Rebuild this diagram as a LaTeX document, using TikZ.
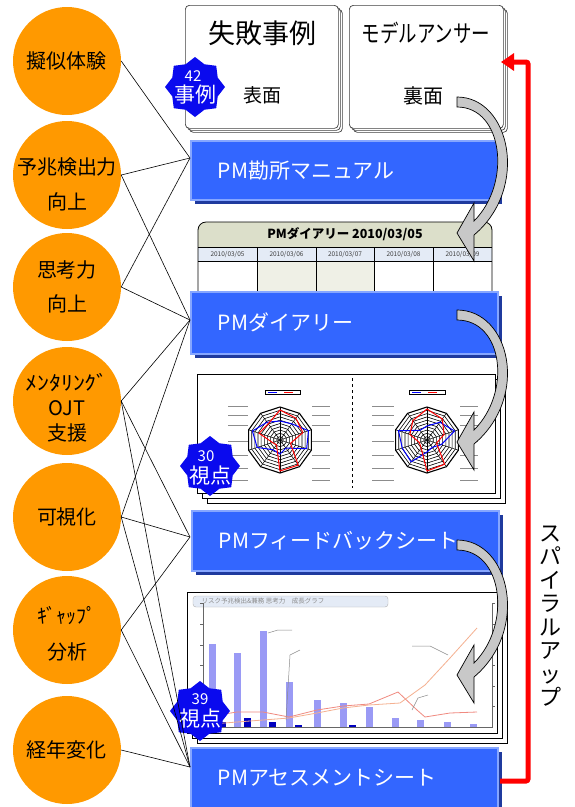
\documentclass[tikz,border=0pt]{standalone}
\usepackage{fontspec}
\usepackage{graphicx}
\setmainfont{Noto Sans CJK JP}
\usetikzlibrary{shapes.geometric,shadows,arrows.meta,calc}
\definecolor{orng}{HTML}{FF9900}
\definecolor{barblue}{HTML}{3366FF}
\definecolor{bardark}{HTML}{1F3A9E}
\definecolor{barlight}{HTML}{86A6FF}
\definecolor{badgeblue}{HTML}{0A0AEE}
\definecolor{hdr}{HTML}{DCDFCA}
\definecolor{daterow}{HTML}{E4EBF6}
\definecolor{cellg}{HTML}{EFF0E6}
\definecolor{arrowgray}{HTML}{C8C8C8}
\definecolor{lilac}{HTML}{9A9AF5}
\definecolor{salmonA}{HTML}{F5B090}
\definecolor{salmonB}{HTML}{F08A80}
\newcommand{\grayarrow}[2]{%
 \filldraw[fill=arrowgray, draw=black, line width=0.7pt]
 (457,#1-5) .. controls (510,#1-5) and (530,#2-45) .. (474,#2+2)
 -- (474,#2+28) -- (457,#2) -- (474,#2-30) -- (474,#2-12)
 .. controls (512,#2-50) and (503,#1+5) .. (457,#1+5) -- cycle;}
\newcommand{\myradar}[3]{%
 \begin{scope}[shift={#1}]
  \foreach \r in {3.3,6.6,9.9,13.2,16.5,19.8,23.1,26.4,29.7}
   \draw[line width=0.6pt] (90:\r) -- (126:\r) -- (162:\r) -- (198:\r) -- (234:\r) -- (270:\r) -- (306:\r) -- (342:\r) -- (18:\r) -- (54:\r) -- cycle;
  \draw[line width=1.1pt] (90:33) -- (126:33) -- (162:33) -- (198:33) -- (234:33) -- (270:33) -- (306:33) -- (342:33) -- (18:33) -- (54:33) -- cycle;
  \foreach \a in {0,...,9} \draw[line width=0.5pt] (0,0) -- (90+36*\a:33);
  \draw[blue, line width=1pt] #2;
  \draw[red, line width=1pt] #3;
 \end{scope}}
\begin{document}
\begin{tikzpicture}[x=1pt,y=-1pt,
  circ/.style={circle, fill=orng, minimum size=108pt, inner sep=0pt, align=center},
  barbox/.style={draw=barlight, line width=1.5pt, fill=barblue, text=white, anchor=north west,
     text width=253pt, inner xsep=27pt, align=left, font=\fontsize{21}{21}\selectfont,
     drop shadow={shadow xshift=4pt, shadow yshift=-4pt, fill=bardark, opacity=1}},
  card/.style={draw=black!75, fill=white, rounded corners=4pt, line width=0.7pt, anchor=north west,
     double copy shadow={shadow xshift=2pt, shadow yshift=-2pt}},
  page/.style={draw=black, fill=white, line width=0.7pt, anchor=north west, inner sep=0pt,
     double copy shadow={shadow xshift=5pt, shadow yshift=-5pt}},
  badgestar/.style={star, star points=8, star point ratio=1.22, fill=badgeblue, minimum size=60pt, inner sep=0pt},
  badgetxt/.style={text=white, inner sep=0pt},
  conn/.style={draw=black, line width=0.6pt},
  datetxt/.style={font=\fontsize{6.5}{6.5}\selectfont, text=black!75},
  gline/.style={draw=black!45, line width=0.5pt}
 ]
\useasboundingbox (0,0) rectangle (575,807);
\fill[white] (0,0) rectangle (575,807);

% ---------- top cards
\node[card, minimum width=153pt, minimum height=123pt] (card1) at (185,5) {};
\node[card, minimum width=154pt, minimum height=123pt] (card2) at (349,5) {};
\node[font=\fontsize{27}{27}\selectfont] (t1) at (262,33) {失敗事例};
\node[font=\fontsize{19}{19}\selectfont] (t2) at (262,95) {表面};
\node[font=\fontsize{24}{24}\selectfont] (t3) at (426,33) {\scalebox{0.77}[1]{モデルアンサー}};
\node[font=\fontsize{20}{20}\selectfont] (t4) at (423,96) {裏面};

% ---------- diary page
\fill[hdr, rounded corners=8pt] (198,247) -- (198,222) -- (492,222) -- (492,247) -- cycle;
\fill[hdr] (198,238) rectangle (492,247);
\fill[daterow] (198,247) rectangle (492,261);
\fill[white] (198,261) rectangle (492,295);
\fill[cellg] (257,261) rectangle (374,295);
\draw[line width=0.8pt, rounded corners=8pt] (198,295) -- (198,222) -- (492,222) -- (492,295);
\draw[line width=0.8pt] (198,247) -- (492,247) (198,261) -- (492,261);
\foreach \x in {257,316,374,433} \draw[line width=0.8pt] (\x,247) -- (\x,295);
\node[font=\bfseries\fontsize{12.5}{12.5}\selectfont] (dh) at (345,234) {PMダイアリー 2010/03/05};
\node[datetxt] (d1) at (227.5,254) {2010/03/05};
\node[datetxt] (d2) at (286.5,254) {2010/03/06};
\node[datetxt] (d3) at (345,254) {2010/03/07};
\node[datetxt] (d4) at (403.5,254) {2010/03/08};
\node[datetxt] (d5) at (462.5,254) {2010/03/09};

% ---------- radar page
\node[page, minimum width=298pt, minimum height=119pt] (radarpage) at (197,374) {};
\draw[dashed, line width=0.7pt] (352,378) -- (352,488);
\draw[line width=0.5pt] (265,390) rectangle (300,394);
\draw[blue, line width=0.8pt] (268,392) -- (277,392);
\draw[red, line width=0.8pt] (284,392) -- (293,392);
\draw[line width=0.5pt] (409,390) rectangle (445,394);
\draw[blue, line width=0.8pt] (412,392) -- (421,392);
\draw[red, line width=0.8pt] (428,392) -- (437,392);
\foreach \y in {406,415,425,441,455,468,480} {
  \draw[gline] (228,\y) -- (248,\y); \draw[gline] (312,\y) -- (330,\y);
  \draw[gline] (372,\y) -- (394,\y); \draw[gline] (460,\y) -- (478,\y);}
\myradar{(280,440)}{(90:14) -- (126:12) -- (162:24) -- (198:29) -- (234:22) -- (270:19) -- (306:20) -- (342:30) -- (18:28) -- (54:10) -- cycle}
 {(90:31) -- (126:6) -- (162:8) -- (198:22) -- (234:20) -- (270:30) -- (306:27) -- (342:24) -- (18:11) -- (54:31) -- cycle}
\myradar{(427,440)}{(90:12) -- (126:27) -- (162:26) -- (198:30) -- (234:12) -- (270:14) -- (306:22) -- (342:29) -- (18:15) -- (54:9) -- cycle}
 {(90:31) -- (126:10) -- (162:8) -- (198:18) -- (234:24) -- (270:31) -- (306:26) -- (342:18) -- (18:10) -- (54:30) -- cycle}

% ---------- chart page
\node[page, minimum width=310pt, minimum height=141pt] (chartpage) at (187,592) {};
\draw[rounded corners=3pt, fill=daterow, draw=black!30] (193,596) rectangle (388,607);
\node[font=\fontsize{6.5}{6.5}\selectfont, text=black!45, anchor=west] (ctitle) at (198,601.5) {リスク予兆検出\&兼務 思考力　成長グラフ};
\draw[black!60, line width=0.5pt] (203,603) -- (203,727) -- (492,727) -- (492,603);
\foreach \y in {603,624,645,665,686,706} {\draw[black!60, line width=0.4pt] (200,\y) -- (203,\y); \draw[black!60, line width=0.4pt] (492,\y) -- (495,\y);}
\foreach \x/\t in {212/644,237/653,263/631,289/682,317/700,343/703,369/707,395/718,420/720,447/722,473/724}
  \fill[lilac] (\x-3.5,\t) rectangle (\x+3.5,727);
\foreach \x/\t in {222/722,247/718,272/722,298/725,352/725}
  \fill[blue!75!black] (\x-3.5,\t) rectangle (\x+3.5,727);
\draw[salmonA, line width=0.8pt] (212,724) -- (237,722) -- (263,720) -- (289,718) -- (317,713) -- (343,708) -- (369,705) -- (400,703) -- (425,685) -- (450,658) -- (477,628);
\draw[salmonB, line width=0.8pt] (212,716) -- (237,712) -- (263,712) -- (289,717) -- (317,710) -- (343,706) -- (369,704) -- (398,692) -- (417,710) -- (425,717) -- (450,713) -- (477,712);
\draw[gline] (268,633) -- (278,630) -- (292,630);
\draw[gline] (286,720) -- (290,655) -- (300,650);
\draw[gline] (412,646) -- (430,646) -- (448,655);
\draw[gline] (412,710) -- (418,698) -- (428,695);

% ---------- bars
\node[barbox, minimum height=59pt] (b1) at (190,140) {PM勘所マニュアル};
\node[barbox, minimum height=62pt] (b2) at (190,291) {PMダイアリー};
\node[barbox, minimum height=60pt] (b3) at (191,510) {PMフィードバックシート};
\node[barbox, minimum height=60pt] (b4) at (190,747) {PMアセスメントシート};
\coordinate (p1) at (190,158);
\coordinate (p2) at (190,320);
\coordinate (p3) at (190,537);
\coordinate (p4) at (190,767);

% ---------- badges
\node[badgestar] (s1) at (195,87) {};
\node[badgetxt, font=\fontsize{15}{15}\selectfont] (s1a) at (193,76) {42};
\node[badgetxt, font=\fontsize{21}{21}\selectfont] (s1b) at (195,95) {事例};
\node[badgestar] (s2) at (210,466) {};
\node[badgetxt, font=\fontsize{15}{15}\selectfont] (s2a) at (206,456) {30};
\node[badgetxt, font=\fontsize{21}{21}\selectfont] (s2b) at (210,476) {視点};
\node[badgestar] (s3) at (200,711) {};
\node[badgetxt, font=\fontsize{15}{15}\selectfont] (s3a) at (200,699) {39};
\node[badgetxt, font=\fontsize{21}{21}\selectfont] (s3b) at (200,719) {視点};

% ---------- curved arrows
\grayarrow{102}{233}
\grayarrow{315}{442}
\grayarrow{545}{675}

% ---------- circles
\node[circ] (c1) at (67,61) {};
\node[circ] (c2) at (67,175) {};
\node[circ] (c3) at (67,287) {};
\node[circ] (c4) at (67,401) {};
\node[circ] (c5) at (67,517) {};
\node[circ] (c6) at (67,630) {};
\node[circ] (c7) at (67,750) {};
\foreach \c/\b in {1/1,2/1,2/2,3/1,3/2,4/2,4/3,4/4,5/2,5/3,5/4,6/3,6/4,7/4}
  \draw[conn] (c\c.east) -- (p\b);
\node[align=center, font=\fontsize{20}{20}\selectfont] (l1) at (67,61) {擬似体験};
\node[align=center, font=\fontsize{20}{35}\selectfont] (l2) at (67,184) {予兆検出力\\向上};
\node[align=center, font=\fontsize{20}{34}\selectfont] (l3) at (67,287) {思考力\\向上};
\node[align=center, font=\fontsize{20}{25}\selectfont] (l4) at (67,408) {\scalebox{1.2}[1]{ﾒﾝﾀﾘﾝｸﾞ}\\OJT\\支援};
\node[align=center, font=\fontsize{20}{20}\selectfont] (l5) at (67,517) {可視化};
\node[align=center, font=\fontsize{20}{36}\selectfont] (l6) at (67,634) {ｷﾞｬｯﾌﾟ\\分析};
\node[align=center, font=\fontsize{20}{20}\selectfont] (l7) at (67,750) {経年変化};

% ---------- red spiral arrow
\coordinate (r1) at (500,781);
\coordinate (r2) at (501,62);
\draw[red, line width=5pt, rounded corners=2pt, -{Triangle[length=13pt,width=17pt]}] (r1) -| (528,62) -- (r2);
\node[align=center, font=\fontsize{22}{23.5}\selectfont] (spiral) at (550,616) {ス\\パ\\イ\\ラ\\ル\\ア\\ッ\\プ};
\end{tikzpicture}
\end{document}
